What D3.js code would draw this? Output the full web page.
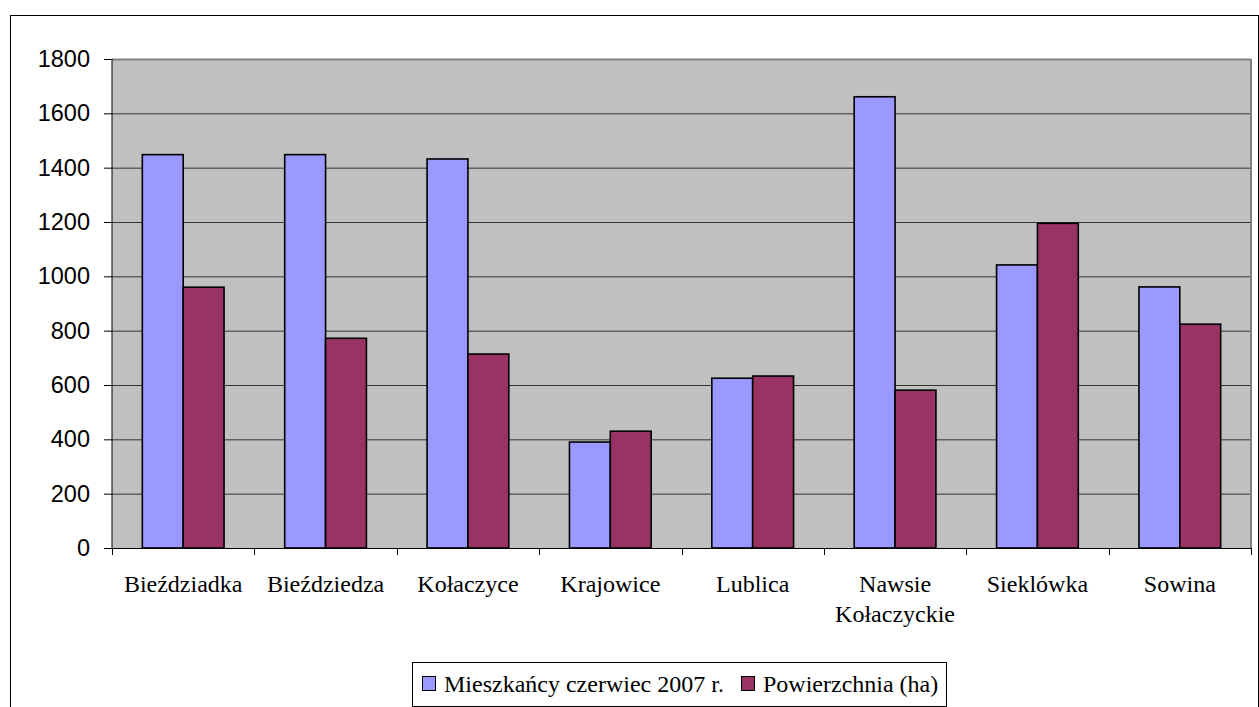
<!DOCTYPE html>
<html><head><meta charset="utf-8">
<script src="https://cdn.jsdelivr.net/npm/d3@7"></script>
<style>body{margin:0;background:#fff}svg{display:block}</style>
</head><body>
<svg id="c" width="1259" height="707"></svg>
<script>
const categories = ["Bieździadka","Bieździedza","Kołaczyce","Krajowice","Lublica","Nawsie Kołaczyckie","Sieklówka","Sowina"];
const categoryLines = [["Bieździadka"],["Bieździedza"],["Kołaczyce"],["Krajowice"],["Lublica"],["Nawsie","Kołaczyckie"],["Sieklówka"],["Sowina"]];
const seriesNames = ["Mieszkańcy czerwiec 2007 r.","Powierzchnia (ha)"];
const mieszkancy = [1448,1448,1432,390,625,1661,1042,961];
const powierzchnia = [960,772,714,430,633,581,1195,824];
const yTicks = [0,200,400,600,800,1000,1200,1400,1600,1800];
const colors = ["#9999FF","#993366"];

const svg = d3.select("#c");
const L=112, R=1251, T=59, B=548;
svg.append("rect").attr("x",10.5).attr("y",15.5).attr("width",1248).attr("height",720)
  .attr("fill","#fff").attr("stroke","#000").attr("stroke-width",1);

const y = d3.scaleLinear().domain([0,1800]).range([B,T]);
const x0 = d3.scaleBand().domain(categories).range([L,R]).padding(0);
const bw = x0.bandwidth();
const x1 = d3.scaleBand().domain(seriesNames).range([bw*0.213, bw*0.787]).padding(0);

svg.append("rect").attr("x",L).attr("y",T).attr("width",R-L).attr("height",B-T).attr("fill","#C0C0C0");
// gridlines
svg.append("g").selectAll("line").data(yTicks.filter(d=>d>0)).join("line")
  .attr("x1",L).attr("x2",R).attr("y1",d=>y(d)+0.5).attr("y2",d=>y(d)+0.5)
  .attr("stroke", d=>d===1800?"#808080":"#333").attr("stroke-width",d=>d===1800?2:1);
// right border
svg.append("line").attr("x1",R).attr("x2",R).attr("y1",T).attr("y2",B).attr("stroke","#808080").attr("stroke-width",2);

// bars
const data = categories.map((c,i)=>({c, vals:[mieszkancy[i],powierzchnia[i]]}));
const g = svg.append("g").selectAll("g").data(data).join("g").attr("transform",d=>`translate(${x0(d.c)},0)`);
g.selectAll("rect").data(d=>d.vals.map((v,j)=>({v,j}))).join("rect")
  .attr("x",d=>x1(seriesNames[d.j])).attr("width",x1.bandwidth())
  .attr("y",d=>y(d.v)).attr("height",d=>B-y(d.v))
  .attr("fill",d=>colors[d.j]).attr("stroke","#000").attr("stroke-width",1.6);

// y axis
const yAxis = d3.axisLeft(y).tickValues(yTicks).tickSize(8).tickPadding(14).tickFormat(d3.format("d"));
const ya = svg.append("g").attr("transform",`translate(${L},0)`).call(yAxis);
ya.select(".domain").attr("stroke","#000").attr("d",`M0,${T}V${B}`);
ya.selectAll(".tick line").attr("stroke","#000");
ya.selectAll("text").attr("font-family","Liberation Sans, Arial, sans-serif").attr("font-size",23.5).attr("fill","#000");

// x axis line and ticks
svg.append("line").attr("x1",L-8).attr("x2",R).attr("y1",B+0.5).attr("y2",B+0.5).attr("stroke","#000");
const bounds = categories.map(c=>x0(c)).concat([R]);
svg.append("g").selectAll("line").data(bounds).join("line")
  .attr("x1",d=>Math.round(d)+0.5).attr("x2",d=>Math.round(d)+0.5).attr("y1",B).attr("y2",B+7).attr("stroke","#000");

// x labels
const xl = svg.append("g").selectAll("text").data(categories).join("text")
  .attr("x",d=>x0(d)+bw/2).attr("y",592).attr("text-anchor","middle")
  .attr("font-family","Liberation Serif, Times New Roman, serif").attr("font-size",24).attr("fill","#000");
xl.each(function(d,i){
  const t=d3.select(this);
  categoryLines[i].forEach((ln,k)=>t.append("tspan").attr("x",x0(d)+bw/2).attr("dy",k===0?0:30).text(ln));
});

// legend
const lg = svg.append("g");
lg.append("rect").attr("x",412.5).attr("y",662.5).attr("width",534).attr("height",44).attr("fill","#fff").attr("stroke","#000");
const lx = [422, 741];
seriesNames.forEach((s,i)=>{
  lg.append("rect").attr("x",lx[i]+0.5).attr("y",676.5).attr("width",13).attr("height",14).attr("fill",colors[i]).attr("stroke","#000");
  lg.append("text").attr("x",lx[i]+22).attr("y",692).attr("font-family","Liberation Serif, Times New Roman, serif")
    .attr("font-size",24).attr("fill","#000").text(s);
});
</script>
</body></html>
